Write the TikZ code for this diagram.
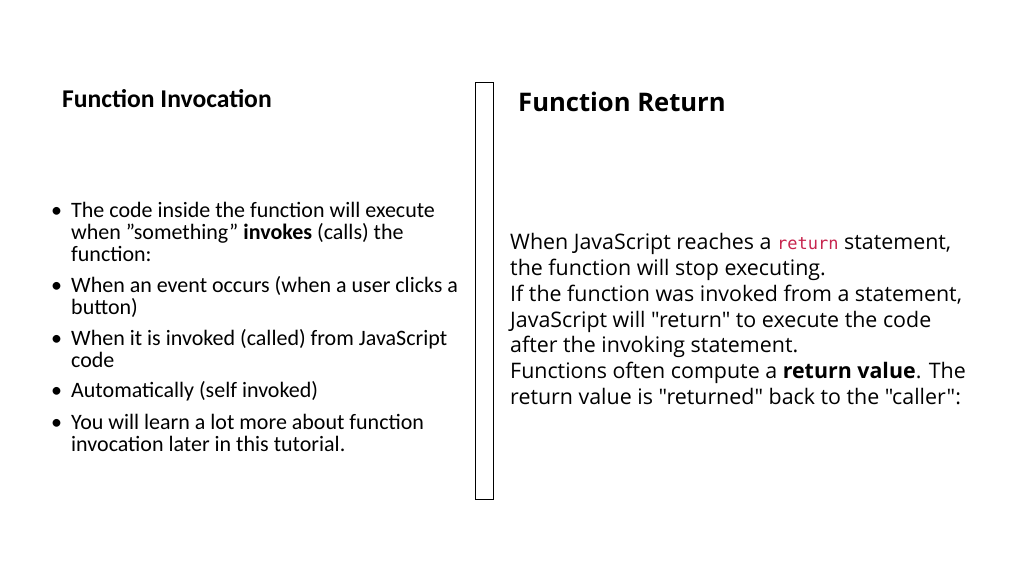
\documentclass[tikz,border=0pt]{standalone}
\usepackage{fontspec}
\setmainfont{Carlito}
\newfontfamily\rsans{Open Sans}
\newfontfamily\rmono{DejaVu Sans Mono}
\definecolor{codered}{RGB}{199,37,78}
\newcommand{\qq}{\symbol{34}}
\begin{document}
\begin{tikzpicture}[x=1pt,y=-1pt,
  lt/.style={anchor=base west,inner sep=0pt,font=\fontsize{22}{26}\selectfont},
  rt/.style={anchor=base west,inner sep=0pt,font=\rsans\fontsize{21.4}{26}\selectfont},
  bul/.style={anchor=base west,inner sep=0pt,font=\fontsize{22}{26}\selectfont}]
\useasboundingbox (0,0) rectangle (1024,575);
\node[lt,font=\bfseries\fontsize{25.6}{30}\selectfont] (lt) at (62,107) {Function Invocation};
\foreach \y/\t [count=\i] in {217/The code inside the function will execute,
  239/{when \qq something\qq{} \textbf{invokes} (calls) the},
  261/function:, 292/When an event occurs (when a user clicks a,
  314/button), 345/When it is invoked (called) from JavaScript,
  367/code, 397/Automatically (self invoked),
  429/You will learn a lot more about function,
  451/invocation later in this tutorial.}
  \node[lt] (l\i) at (71,\y) {\t};
\foreach \y [count=\i] in {217,292,345,397,429}
  \node[bul] (b\i) at (51,\y) {\textbullet};
\node[draw=black,line width=1pt,minimum width=18pt,minimum height=416pt,inner sep=0pt] (bar) at (484,291) {};
\node[rt,font=\rsans\bfseries\fontsize{25.6}{30}\selectfont] (rtitle) at (518,112) {Function Return};
\foreach \y/\t [count=\i] in {249/{When JavaScript reaches a {\rmono\fontsize{17}{20}\selectfont\color{codered}return} statement,},
  275/the function will stop executing.,
  301/{If the function was invoked from a statement,},
  327/JavaScript will "return" to execute the code,
  352/after the invoking statement.,
  378/Functions often compute a \textbf{return value}. The,
  404/return value is "returned" back to the "caller":}
  \node[rt] (r\i) at (510,\y) {\t};
\end{tikzpicture}
\end{document}
